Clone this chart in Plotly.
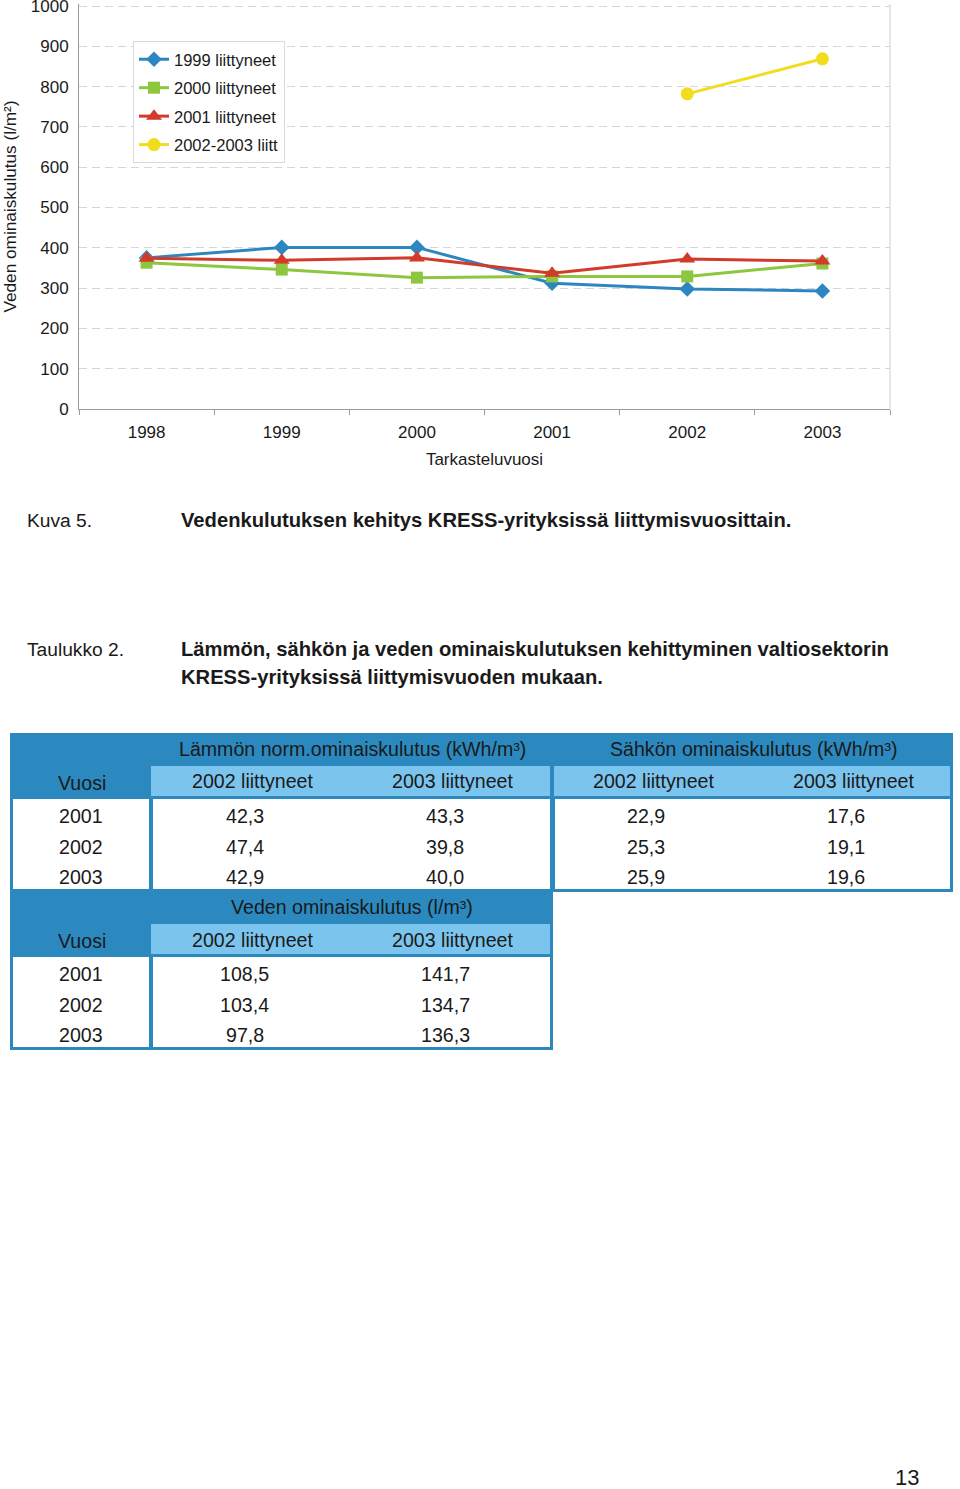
import plotly.graph_objects as go

# ---------------- data ----------------
years = [1998, 1999, 2000, 2001, 2002, 2003]
year_labels = ["1998", "1999", "2000", "2001", "2002", "2003"]
s1999 = [375, 401, 401, 312, 298, 293]
s2000 = [363, 346, 326, 329, 329, 361]
s2001 = [374, 369, 375, 337, 372, 367]
s2002_2003 = [None, None, None, None, 782, 869]
series_names = ["1999 liittyneet", "2000 liittyneet", "2001 liittyneet", "2002-2003 liitt"]
y_ticks = [0, 100, 200, 300, 400, 500, 600, 700, 800, 900, 1000]

y_title = "Veden ominaiskulutus (l/m²)"
x_title = "Tarkasteluvuosi"

caption_fig_label = "Kuva 5."
caption_fig_text = "Vedenkulutuksen kehitys KRESS-yrityksissä liittymisvuosittain."
caption_tab_label = "Taulukko 2."
caption_tab_lines = ["Lämmön, sähkön ja veden ominaiskulutuksen kehittyminen valtiosektorin",
                     "KRESS-yrityksissä liittymisvuoden mukaan."]

table_years = ["2001", "2002", "2003"]
sub_headers = ["2002 liittyneet", "2003 liittyneet"]
group_titles = ["Lämmön norm.ominaiskulutus (kWh/m³)", "Sähkön ominaiskulutus (kWh/m³)",
                "Veden ominaiskulutus (l/m³)"]
lammo_2002 = ["42,3", "47,4", "42,9"]
lammo_2003 = ["43,3", "39,8", "40,0"]
sahko_2002 = ["22,9", "25,3", "25,9"]
sahko_2003 = ["17,6", "19,1", "19,6"]
vesi_2002 = ["108,5", "103,4", "97,8"]
vesi_2003 = ["141,7", "134,7", "136,3"]
page_number = "13"

# ---------------- style ----------------
W, H = 960, 1489
FONT = "Liberation Sans, Arial, sans-serif"
TXT = "#1a1a1a"
DARK = "#2B89BF"
LIGHT = "#7AC4EE"
colors = ["#2E86C1", "#8DC63F", "#D23A2A", "#F2DC1E"]
symbols = ["diamond", "square", "triangle-up", "circle"]
sizes = [12, 12, 14, 13]
TABLE_FS = 19.6
CAP_FS = 19.2
CAP_BOLD_FS = 20.2

fig = go.Figure()
for name, vals, c, sym, sz in zip(series_names, [s1999, s2000, s2001, s2002_2003], colors, symbols, sizes):
    fig.add_trace(go.Scatter(x=years, y=vals, name=name, mode="lines+markers",
                             line=dict(color=c, width=3),
                             marker=dict(symbol=sym, size=sz, color=c),
                             legendgroup=name, xaxis="x", yaxis="y",
                             connectgaps=False))
# helper subplot for page layout (table, captions)
fig.add_trace(go.Scatter(x=[], y=[], xaxis="x2", yaxis="y2", showlegend=False, hoverinfo="skip"))

shapes = []
annotations = []

def rect(x0, y0, x1, y1, color):
    shapes.append(dict(type="rect", xref="x2", yref="y2", x0=x0, y0=y0, x1=x1, y1=y1,
                       fillcolor=color, line=dict(width=0), layer="above"))

def text(x, y, s, size=TABLE_FS, anchor="center", bold=False, color=TXT):
    annotations.append(dict(xref="x2", yref="y2", x=x, y=y, text=("<b>%s</b>" % s) if bold else s,
                            showarrow=False, xanchor=anchor, yanchor="middle",
                            font=dict(family=FONT, size=size, color=color)))

# chart right border
shapes.append(dict(type="line", xref="x domain", yref="y domain", x0=1, x1=1, y0=0, y1=1,
                   line=dict(color="#d0d0d0", width=1), layer="below"))

# captions
text(25, 520, caption_fig_label, size=CAP_FS, anchor="left")
text(179, 520, caption_fig_text, size=CAP_BOLD_FS, anchor="left", bold=True)
text(25, 649, caption_tab_label, size=CAP_FS, anchor="left")
for i, line in enumerate(caption_tab_lines):
    text(179, 649 + 28 * i, line, size=CAP_BOLD_FS, anchor="left", bold=True)

# ---------------- table ----------------
rect(10, 733, 953, 892, DARK)
rect(151, 766, 550, 796, LIGHT)
rect(554, 766, 950, 796, LIGHT)
rect(13, 799, 149, 889, "white")
rect(153, 799, 550, 889, "white")
rect(555, 799, 950, 889, "white")
rect(10, 889, 553, 1050, DARK)
rect(151, 924, 550, 954, LIGHT)
rect(13, 957, 149, 1047, "white")
rect(153, 957, 550, 1047, "white")

group_centers = [352.5, 753.5, 352]
group_y = [749, 749, 907]
for g, (gx, gy) in enumerate(zip(group_centers, group_y)):
    text(gx, gy, group_titles[g])

sub_centers = [[252.5, 452.5], [653, 853.5], [252.5, 452.5]]
sub_y = [781, 781, 940]
for cs, sy in zip(sub_centers, sub_y):
    for cx, s in zip(cs, sub_headers):
        text(cx, sy, s)

text(81.5, 783, "Vuosi")
text(81.5, 941, "Vuosi")

row_step = 30.5
blocks = [
    (816, [(245, lammo_2002), (445, lammo_2003), (645.5, sahko_2002), (846, sahko_2003)]),
    (974, [(244.5, vesi_2002), (445, vesi_2003)]),
]
for y0, cols in blocks:
    for i, yr in enumerate(table_years):
        ry = y0 + i * row_step
        text(81, ry, yr)
        for cx, vals in cols:
            text(cx, ry, vals[i])

text(907, 1477, page_number, size=22)

# chart domain (pixel positions of value 0 and 1000)
y0_px = 409
y1000_px = 6
ppu = (y0_px - y1000_px) / 1000.0
YMAX = 1005
ytop_px = y0_px - YMAX * ppu

fig.update_layout(
    width=W, height=H, margin=dict(l=0, r=0, t=0, b=0, autoexpand=False),
    paper_bgcolor="white", plot_bgcolor="rgba(0,0,0,0)",
    font=dict(family=FONT, size=17, color=TXT),
    showlegend=True,
    legend=dict(x=133 / W, y=1 - 41 / H, xanchor="left", yanchor="top",
                bgcolor="white", bordercolor="#d9d9d9", borderwidth=1,
                font=dict(family=FONT, size=16.5, color=TXT),
                tracegroupgap=4, itemwidth=30),
    xaxis=dict(domain=[79 / W, 890 / W], anchor="y", range=[1997.5, 2003.5], automargin=False,
               tickvals=years, ticktext=year_labels, ticks="",
               showgrid=False, zeroline=False, showline=True, linecolor="#9a9a9a", linewidth=1,
               minor=dict(tickvals=[1997.5 + i for i in range(7)], ticks="outside", ticklen=5,
                          tickcolor="#9a9a9a", showgrid=False),
               ticklabelstandoff=8,
               tickfont=dict(size=17),
               title=dict(text=x_title, standoff=11, font=dict(size=17))),
    yaxis=dict(domain=[1 - y0_px / H, 1 - ytop_px / H], anchor="x", range=[0, YMAX], automargin=False,
               tickvals=y_ticks, ticklabeloverflow="allow",
               showgrid=True, gridcolor="#d6d6d6", griddash="8px,5px", gridwidth=1,
               zeroline=False, showline=True, linecolor="#9a9a9a", linewidth=1,
               ticks="", ticklabelstandoff=6, tickfont=dict(size=17),
               title=dict(text=y_title, standoff=19, font=dict(size=17.2))),
    xaxis2=dict(domain=[0, 1], anchor="y2", range=[0, W], visible=False, fixedrange=True, automargin=False),
    yaxis2=dict(domain=[0, 1], anchor="x2", range=[H, 0], visible=False, fixedrange=True, automargin=False),
    shapes=shapes, annotations=annotations,
)

fig.write_html("out.html")
